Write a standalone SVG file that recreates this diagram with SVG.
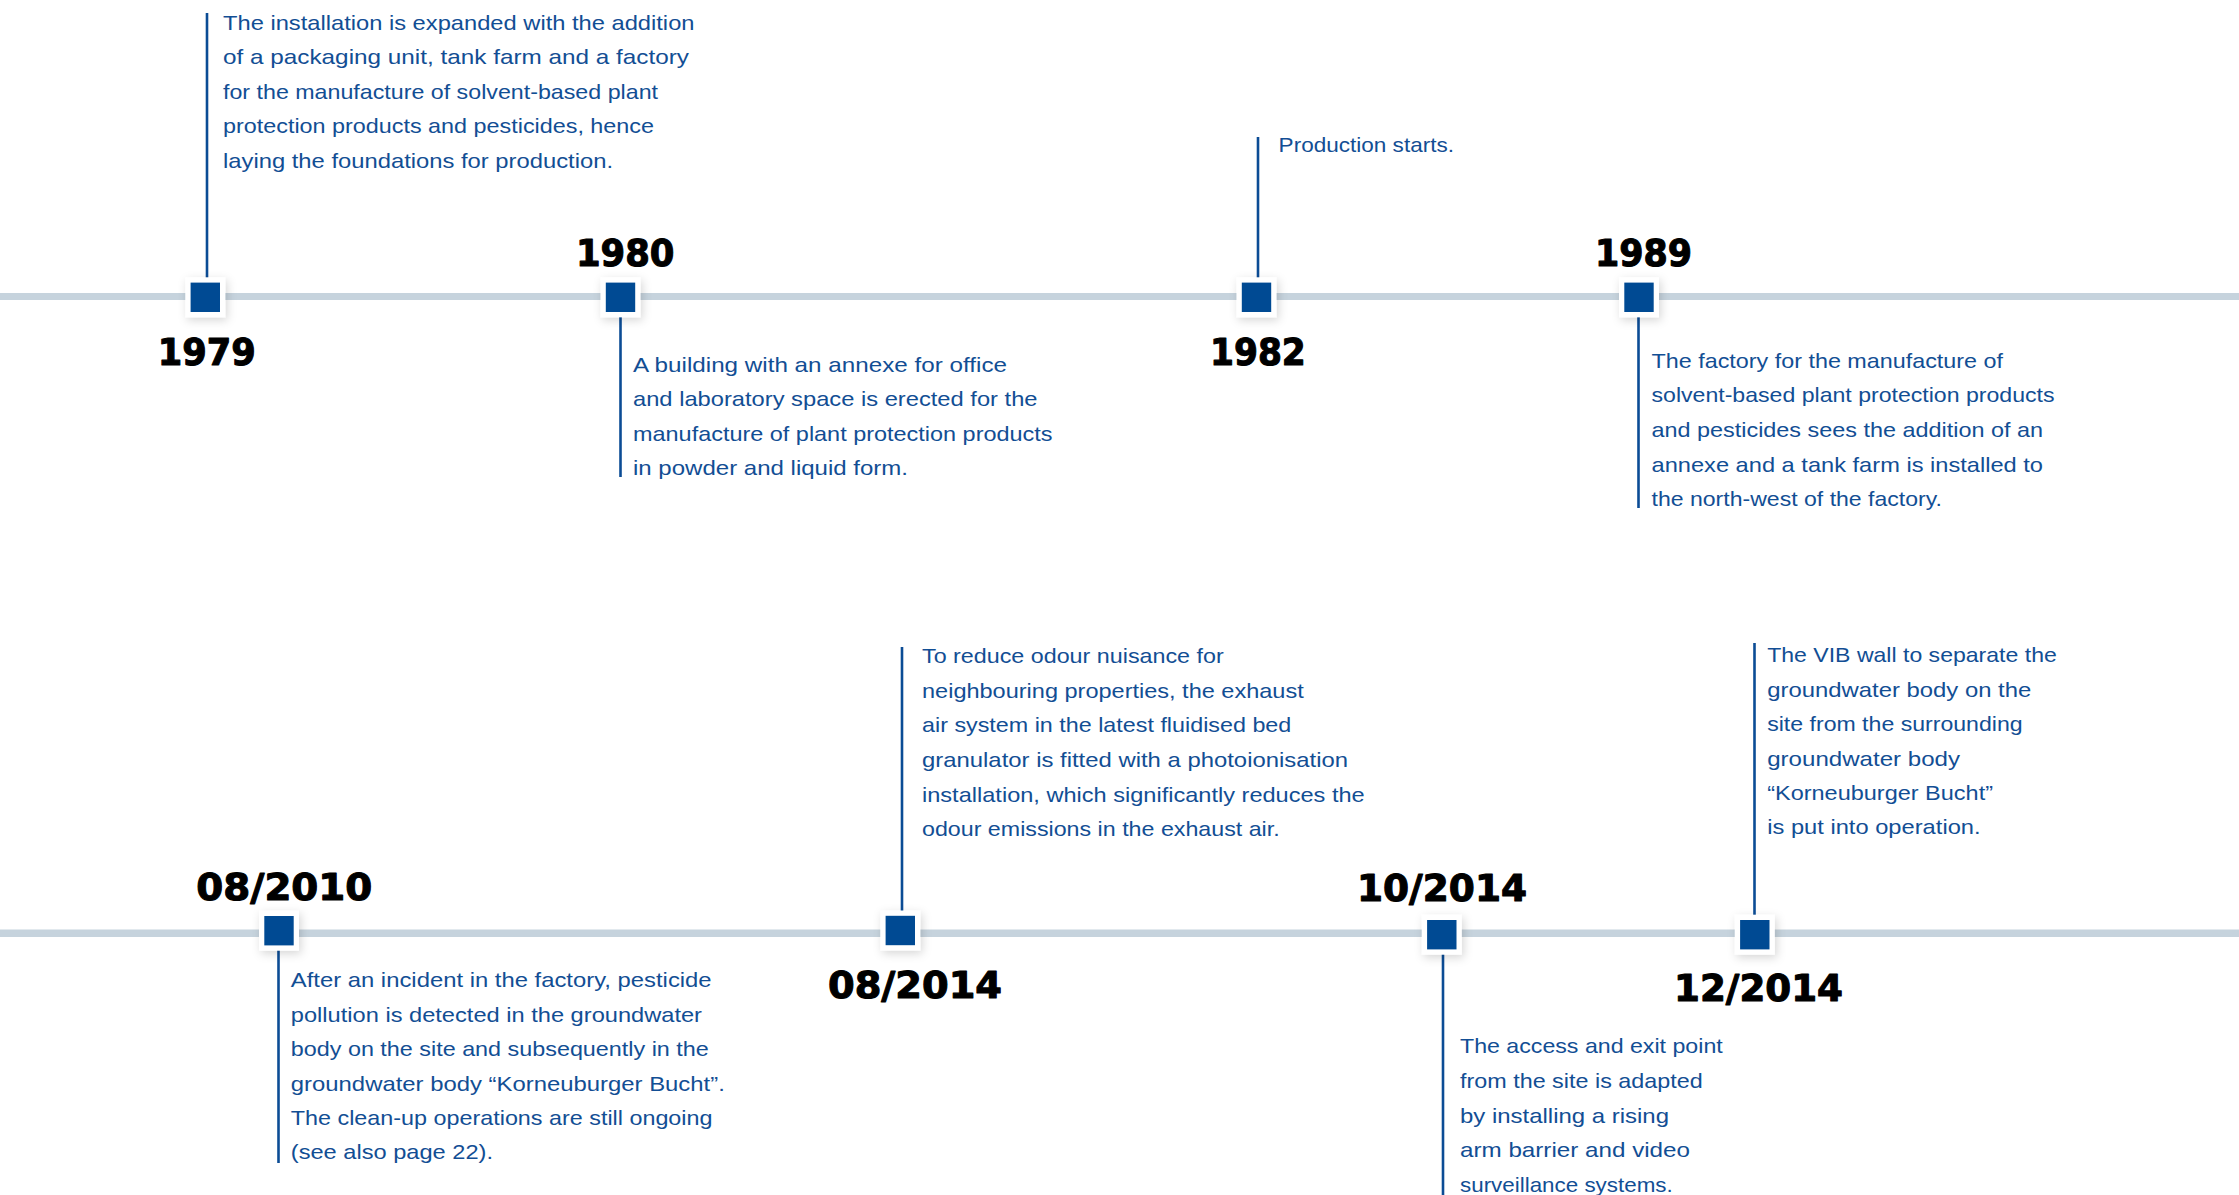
<svg xmlns="http://www.w3.org/2000/svg" width="2239" height="1195" viewBox="0 0 2239 1195">
<style>
.axis{fill:#C6D3DD}
.stem{stroke:#0B4C95;stroke-width:2.6;fill:none}
.box{fill:#FFFFFF;filter:url(#sh)}
.sq{fill:#004A93}
.yr{font-family:"DejaVu Sans","Liberation Sans",sans-serif;font-weight:bold;font-size:38px;fill:#000000;stroke:#000000;stroke-width:1.1;stroke-linejoin:round}
.tx{font-family:"Liberation Sans","DejaVu Sans",sans-serif;font-size:21px;fill:#124E94}
</style>
<defs>
<filter id="sh" x="-60%" y="-60%" width="220%" height="220%">
<feDropShadow dx="2" dy="3" stdDeviation="5" flood-color="#000000" flood-opacity="0.16"/>
</filter>
<symbol id="mk" overflow="visible">
<rect class="box" x="-20" y="-20" width="40" height="40"/>
<rect class="sq" x="-14.7" y="-14.7" width="29.4" height="29.4"/>
</symbol>
</defs>
<rect width="2239" height="1195" fill="#FFFFFF"/>
<g id="connectors">
<rect class="axis" x="0" y="293" width="2239" height="7"/>
<rect class="axis" x="0" y="929.5" width="2239" height="7.5"/>
<line class="stem" x1="207" y1="13" x2="207" y2="278"/>
<line class="stem" x1="620.5" y1="316" x2="620.5" y2="477"/>
<line class="stem" x1="1258" y1="137" x2="1258" y2="278"/>
<line class="stem" x1="1638.5" y1="316" x2="1638.5" y2="508"/>
<line class="stem" x1="278.5" y1="950" x2="278.5" y2="1163"/>
<line class="stem" x1="902" y1="647" x2="902" y2="912"/>
<line class="stem" x1="1443" y1="954" x2="1443" y2="1195"/>
<line class="stem" x1="1754.5" y1="643" x2="1754.5" y2="916"/>
</g>
<g id="n1979">
<use href="#mk" x="205.3" y="297.3"/>
<text class="yr" x="157.8" y="365" textLength="98" lengthAdjust="spacingAndGlyphs">1979</text>
<text class="tx" x="223" y="30" textLength="471.5" lengthAdjust="spacingAndGlyphs">The installation is expanded with the addition</text>
<text class="tx" x="223" y="64.3" textLength="466" lengthAdjust="spacingAndGlyphs">of a packaging unit, tank farm and a factory</text>
<text class="tx" x="223" y="99" textLength="435" lengthAdjust="spacingAndGlyphs">for the manufacture of solvent-based plant</text>
<text class="tx" x="223" y="133.3" textLength="431" lengthAdjust="spacingAndGlyphs">protection products and pesticides, hence</text>
<text class="tx" x="223" y="167.7" textLength="390" lengthAdjust="spacingAndGlyphs">laying the foundations for production.</text>
</g>
<g id="n1980">
<use href="#mk" x="620.5" y="297.3"/>
<text class="yr" x="576" y="265.5" textLength="98.5" lengthAdjust="spacingAndGlyphs">1980</text>
<text class="tx" x="633" y="371.7" textLength="374" lengthAdjust="spacingAndGlyphs">A building with an annexe for office</text>
<text class="tx" x="633" y="406" textLength="404.5" lengthAdjust="spacingAndGlyphs">and laboratory space is erected for the</text>
<text class="tx" x="633" y="440.5" textLength="419.5" lengthAdjust="spacingAndGlyphs">manufacture of plant protection products</text>
<text class="tx" x="633" y="475" textLength="275" lengthAdjust="spacingAndGlyphs">in powder and liquid form.</text>
</g>
<g id="n1982">
<use href="#mk" x="1256.5" y="297.3"/>
<text class="yr" x="1210" y="365" textLength="95.8" lengthAdjust="spacingAndGlyphs">1982</text>
<text class="tx" x="1278.6" y="152.3" textLength="175.4" lengthAdjust="spacingAndGlyphs">Production starts.</text>
</g>
<g id="n1989">
<use href="#mk" x="1639" y="297.3"/>
<text class="yr" x="1595" y="265.7" textLength="97" lengthAdjust="spacingAndGlyphs">1989</text>
<text class="tx" x="1651.5" y="367.7" textLength="351.5" lengthAdjust="spacingAndGlyphs">The factory for the manufacture of</text>
<text class="tx" x="1651.5" y="402.3" textLength="403" lengthAdjust="spacingAndGlyphs">solvent-based plant protection products</text>
<text class="tx" x="1651.5" y="437" textLength="391.5" lengthAdjust="spacingAndGlyphs">and pesticides sees the addition of an</text>
<text class="tx" x="1651.5" y="471.7" textLength="391.5" lengthAdjust="spacingAndGlyphs">annexe and a tank farm is installed to</text>
<text class="tx" x="1651.5" y="506" textLength="290.5" lengthAdjust="spacingAndGlyphs">the north-west of the factory.</text>
</g>
<g id="n082010">
<use href="#mk" x="279" y="930.7"/>
<text class="yr" x="196.3" y="900" textLength="176" lengthAdjust="spacingAndGlyphs">08/2010</text>
<text class="tx" x="290.8" y="986.7" textLength="420.8" lengthAdjust="spacingAndGlyphs">After an incident in the factory, pesticide</text>
<text class="tx" x="290.8" y="1021.7" textLength="411.2" lengthAdjust="spacingAndGlyphs">pollution is detected in the groundwater</text>
<text class="tx" x="290.8" y="1056" textLength="418" lengthAdjust="spacingAndGlyphs">body on the site and subsequently in the</text>
<text class="tx" x="290.8" y="1090.7" textLength="434" lengthAdjust="spacingAndGlyphs">groundwater body “Korneuburger Bucht”.</text>
<text class="tx" x="290.8" y="1125" textLength="421.7" lengthAdjust="spacingAndGlyphs">The clean-up operations are still ongoing</text>
<text class="tx" x="290.8" y="1159.3" textLength="202.2" lengthAdjust="spacingAndGlyphs">(see also page 22).</text>
</g>
<g id="n082014">
<use href="#mk" x="900.3" y="930.5"/>
<text class="yr" x="828" y="998.3" textLength="174" lengthAdjust="spacingAndGlyphs">08/2014</text>
<text class="tx" x="922" y="663.3" textLength="301.7" lengthAdjust="spacingAndGlyphs">To reduce odour nuisance for</text>
<text class="tx" x="922" y="698.3" textLength="381.7" lengthAdjust="spacingAndGlyphs">neighbouring properties, the exhaust</text>
<text class="tx" x="922" y="732.3" textLength="369.3" lengthAdjust="spacingAndGlyphs">air system in the latest fluidised bed</text>
<text class="tx" x="922" y="767" textLength="426" lengthAdjust="spacingAndGlyphs">granulator is fitted with a photoionisation</text>
<text class="tx" x="922" y="801.7" textLength="442.7" lengthAdjust="spacingAndGlyphs">installation, which significantly reduces the</text>
<text class="tx" x="922" y="836" textLength="357.7" lengthAdjust="spacingAndGlyphs">odour emissions in the exhaust air.</text>
</g>
<g id="n102014">
<use href="#mk" x="1441.8" y="934.7"/>
<text class="yr" x="1357" y="900.5" textLength="170" lengthAdjust="spacingAndGlyphs">10/2014</text>
<text class="tx" x="1460" y="1052.7" textLength="262.7" lengthAdjust="spacingAndGlyphs">The access and exit point</text>
<text class="tx" x="1460" y="1087.7" textLength="242.7" lengthAdjust="spacingAndGlyphs">from the site is adapted</text>
<text class="tx" x="1460" y="1122.7" textLength="209" lengthAdjust="spacingAndGlyphs">by installing a rising</text>
<text class="tx" x="1460" y="1156.7" textLength="230" lengthAdjust="spacingAndGlyphs">arm barrier and video</text>
<text class="tx" x="1460" y="1191.7" textLength="212.7" lengthAdjust="spacingAndGlyphs">surveillance systems.</text>
</g>
<g id="n122014">
<use href="#mk" x="1754.8" y="934.7"/>
<text class="yr" x="1674" y="1001" textLength="169" lengthAdjust="spacingAndGlyphs">12/2014</text>
<text class="tx" x="1767.2" y="662.3" textLength="289.6" lengthAdjust="spacingAndGlyphs">The VIB wall to separate the</text>
<text class="tx" x="1767.2" y="696.7" textLength="264.1" lengthAdjust="spacingAndGlyphs">groundwater body on the</text>
<text class="tx" x="1767.2" y="731" textLength="255.4" lengthAdjust="spacingAndGlyphs">site from the surrounding</text>
<text class="tx" x="1767.2" y="765.7" textLength="192.8" lengthAdjust="spacingAndGlyphs">groundwater body</text>
<text class="tx" x="1767.2" y="800" textLength="225.8" lengthAdjust="spacingAndGlyphs">“Korneuburger Bucht”</text>
<text class="tx" x="1767.2" y="834.3" textLength="213.4" lengthAdjust="spacingAndGlyphs">is put into operation.</text>
</g>
</svg>
